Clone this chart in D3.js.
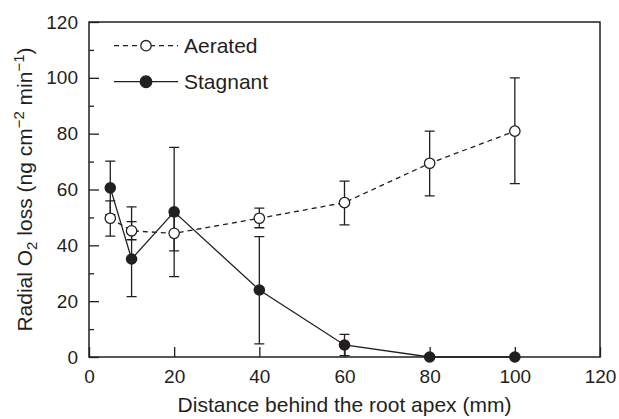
<!DOCTYPE html>
<html>
  <head>
    <meta charset="utf-8" />
    <script src="https://d3js.org/d3.v7.min.js"></script>
    <style>
      body { margin: 0; background: #fff; }
      svg { font-family: "Liberation Sans", Arial, sans-serif; }
      .axis text { font-size: 19px; fill: #231f20; }
      .axis line { stroke: #231f20; stroke-width: 1.3px; }
      .frame { fill: none; stroke: #231f20; stroke-width: 1.5px; }
      .errbar { stroke: #231f20; stroke-width: 1.3px; fill: none; }
      .title { font-size: 21px; fill: #231f20; }
    </style>
  </head>
  <body>

    <svg id="chart" width="619" height="419"></svg>

    <script>

      // distances (mm)
      var distance = [5, 10, 20, 40, 60, 80, 100];

      // radial O2 loss (ng cm-2 min-1): mean, lower and upper error bar ends
      var aeratedMean = [49.7, 45.2, 44.3, 49.7, 55.3, 69.4, 80.9];
      var aeratedLow = [43.3, 42.0, 38.0, 46.3, 47.3, 57.7, 62.1];
      var aeratedHigh = [55.9, 48.5, 50.6, 53.3, 63.0, 80.9, 100.0];
      var stagnantMean = [60.6, 35.1, 52.0, 24.0, 4.3, 0, 0];
      var stagnantLow = [51.0, 21.6, 28.8, 4.7, 0.5, 0, 0];
      var stagnantHigh = [70.2, 53.8, 75.1, 43.1, 8.1, 0, 0];

      var xTicks = [0, 20, 40, 60, 80, 100, 120];
      var yTicks = [0, 20, 40, 60, 80, 100, 120];
      var yMinor = [10, 30, 50, 70, 90, 110];

      var plotL = 89, plotR = 600, plotT = 22, plotB = 357;
      var svg = d3.select("#chart");
      var ink = "#231f20";

      var x = d3.scaleLinear().domain([0, 120]).range([plotL, plotR]);
      var y = d3.scaleLinear().domain([0, 120]).range([plotB, plotT]);

      // axes with inward ticks
      var xAxis = svg.append("g")
        .attr("class", "axis")
        .attr("transform", "translate(0," + plotB + ")")
        .call(d3.axisBottom(x).tickValues(xTicks).tickSizeInner(-10).tickSizeOuter(0).tickPadding(13));
      xAxis.select(".domain").remove();

      var yAxis = svg.append("g")
        .attr("class", "axis")
        .attr("transform", "translate(" + plotL + ",0)")
        .call(d3.axisLeft(y).tickValues(yTicks).tickSizeInner(-10).tickSizeOuter(0).tickPadding(11));
      yAxis.select(".domain").remove();

      var yAxisMinor = svg.append("g")
        .attr("class", "axis")
        .attr("transform", "translate(" + plotL + ",0)")
        .call(d3.axisLeft(y).tickValues(yMinor).tickSizeInner(-5).tickSizeOuter(0).tickFormat(""));
      yAxisMinor.select(".domain").remove();

      svg.append("rect")
        .attr("class", "frame")
        .attr("x", plotL)
        .attr("y", plotT)
        .attr("width", plotR - plotL)
        .attr("height", plotB - plotT);

      function series(mean, low, high) {
        return distance.map(function(d, i) {
          return { x: d, y: mean[i], lo: low[i], hi: high[i] };
        });
      }

      var aerated = series(aeratedMean, aeratedLow, aeratedHigh);
      var stagnant = series(stagnantMean, stagnantLow, stagnantHigh);

      var line = d3.line()
        .x(function(d) { return x(d.x); })
        .y(function(d) { return y(d.y); });

      // error bars
      function drawErrors(data) {
        var g = svg.append("g");
        data.filter(function(d) { return d.hi > d.lo; }).forEach(function(d) {
          var cx = x(d.x);
          g.append("path")
            .attr("class", "errbar")
            .attr("d", "M" + cx + "," + y(d.lo) + "V" + y(d.hi) +
              "M" + (cx - 5) + "," + y(d.hi) + "H" + (cx + 5) +
              "M" + (cx - 5) + "," + y(d.lo) + "H" + (cx + 5));
        });
      }

      drawErrors(aerated);
      drawErrors(stagnant);

      svg.append("path")
        .datum(aerated)
        .attr("fill", "none")
        .attr("stroke", ink)
        .attr("stroke-width", 1.3)
        .attr("stroke-dasharray", "5,4")
        .attr("d", line);

      svg.append("path")
        .datum(stagnant)
        .attr("fill", "none")
        .attr("stroke", ink)
        .attr("stroke-width", 1.3)
        .attr("d", line);

      svg.selectAll(".open")
        .data(aerated)
        .enter().append("circle")
        .attr("class", "open")
        .attr("cx", function(d) { return x(d.x); })
        .attr("cy", function(d) { return y(d.y); })
        .attr("r", 5.2)
        .attr("fill", "#fff")
        .attr("stroke", ink)
        .attr("stroke-width", 1.3);

      svg.selectAll(".filled")
        .data(stagnant)
        .enter().append("circle")
        .attr("class", "filled")
        .attr("cx", function(d) { return x(d.x); })
        .attr("cy", function(d) { return y(d.y); })
        .attr("r", 5.8)
        .attr("fill", ink);

      // legend
      var legend = [
        { label: "Aerated", dash: "5,4", fill: "#fff", r: 5.2, ly: 45.7 },
        { label: "Stagnant", dash: null, fill: ink, r: 5.8, ly: 81.7 }
      ];

      legend.forEach(function(d) {
        svg.append("line")
          .attr("x1", 114).attr("x2", 178)
          .attr("y1", d.ly).attr("y2", d.ly)
          .attr("stroke", ink)
          .attr("stroke-width", 1.3)
          .attr("stroke-dasharray", d.dash);
        svg.append("circle")
          .attr("cx", 146).attr("cy", d.ly)
          .attr("r", d.r)
          .attr("fill", d.fill)
          .attr("stroke", ink)
          .attr("stroke-width", 1.3);
        svg.append("text")
          .attr("class", "title")
          .attr("x", 184)
          .attr("y", d.ly)
          .attr("dy", "0.36em")
          .text(d.label);
      });

      // axis titles
      svg.append("text")
        .attr("class", "title")
        .attr("x", (plotL + plotR) / 2)
        .attr("y", 412)
        .attr("text-anchor", "middle")
        .text("Distance behind the root apex (mm)");

      var yt = svg.append("text")
        .attr("class", "title")
        .attr("text-anchor", "middle")
        .attr("transform", "translate(32," + ((plotT + plotB) / 2) + ") rotate(-90)");
      yt.append("tspan").text("Radial O");
      yt.append("tspan").attr("font-size", "15px").attr("baseline-shift", "-30%").text("2");
      yt.append("tspan").text(" loss (ng cm");
      yt.append("tspan").attr("font-size", "15px").attr("baseline-shift", "55%").text("\u22122");
      yt.append("tspan").text(" min");
      yt.append("tspan").attr("font-size", "15px").attr("baseline-shift", "55%").text("\u22121");
      yt.append("tspan").text(")");

    </script>

  </body>
</html>
